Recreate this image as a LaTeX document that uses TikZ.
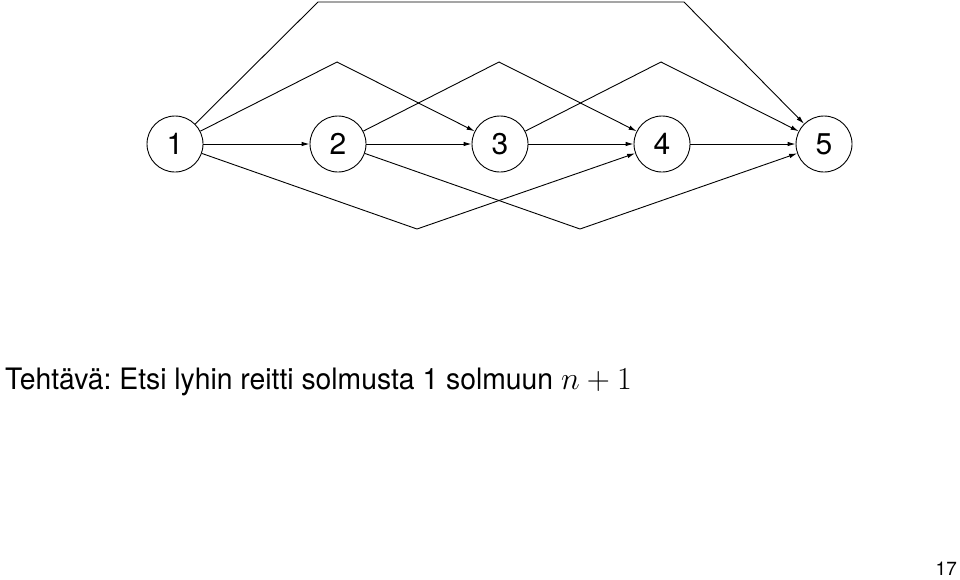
\RequirePackage{fix-cm}
\documentclass[tikz,border=0pt]{standalone}
\usepackage[no-math]{fontspec}
\setmainfont{TeX Gyre Heros}
\newfontfamily\narrowheros[FakeStretch=0.96]{TeX Gyre Heros}
\usetikzlibrary{arrows.meta}
\frenchspacing
\begin{document}
\begin{tikzpicture}[x=1pt,y=-1pt,
  vert/.style={circle,draw,line width=0.9pt,minimum size=56pt,inner sep=0pt,font=\fontsize{30}{34}\selectfont},
  edge/.style={line width=0.9pt,-{Latex[length=8pt,width=4.5pt]}},
  label/.style={font=\narrowheros\fontsize{29.5}{34}\selectfont,inner sep=0pt}]
\useasboundingbox (0,0) rectangle (960,579);
\node[vert] (n1) at (175,144) {1};
\node[vert] (n2) at (338,144) {2};
\node[vert] (n3) at (500,144) {3};
\node[vert] (n4) at (662,144) {4};
\node[vert] (n5) at (824,144) {5};
\coordinate (t1) at (318,2);
\coordinate (t2) at (684,2);
\coordinate (a13) at (337,62);
\coordinate (a24) at (499,62);
\coordinate (a35) at (661,62);
\coordinate (b14) at (417,229);
\coordinate (b25) at (580,229);
\draw[edge] (n1) -- (n2);
\draw[edge] (n2) -- (n3);
\draw[edge] (n3) -- (n4);
\draw[edge] (n4) -- (n5);
\draw[edge] (n1) -- (t1) -- (t2) -- (n5);
\draw[edge] (n1) -- (a13) -- (n3);
\draw[edge] (n2) -- (a24) -- (n4);
\draw[edge] (n3) -- (a35) -- (n5);
\draw[edge] (n1) -- (b14) -- (n4);
\draw[edge] (n2) -- (b25) -- (n5);
\node[label,anchor=base west] (task) at (5,389) {Tehtävä: Etsi lyhin reitti solmusta 1 solmuun {\fontsize{32}{36}\selectfont$n+1$}};
\node[inner sep=0pt,anchor=base east,font=\fontsize{19}{22}\selectfont] (page) at (957,575.5) {17};
\end{tikzpicture}
\end{document}
